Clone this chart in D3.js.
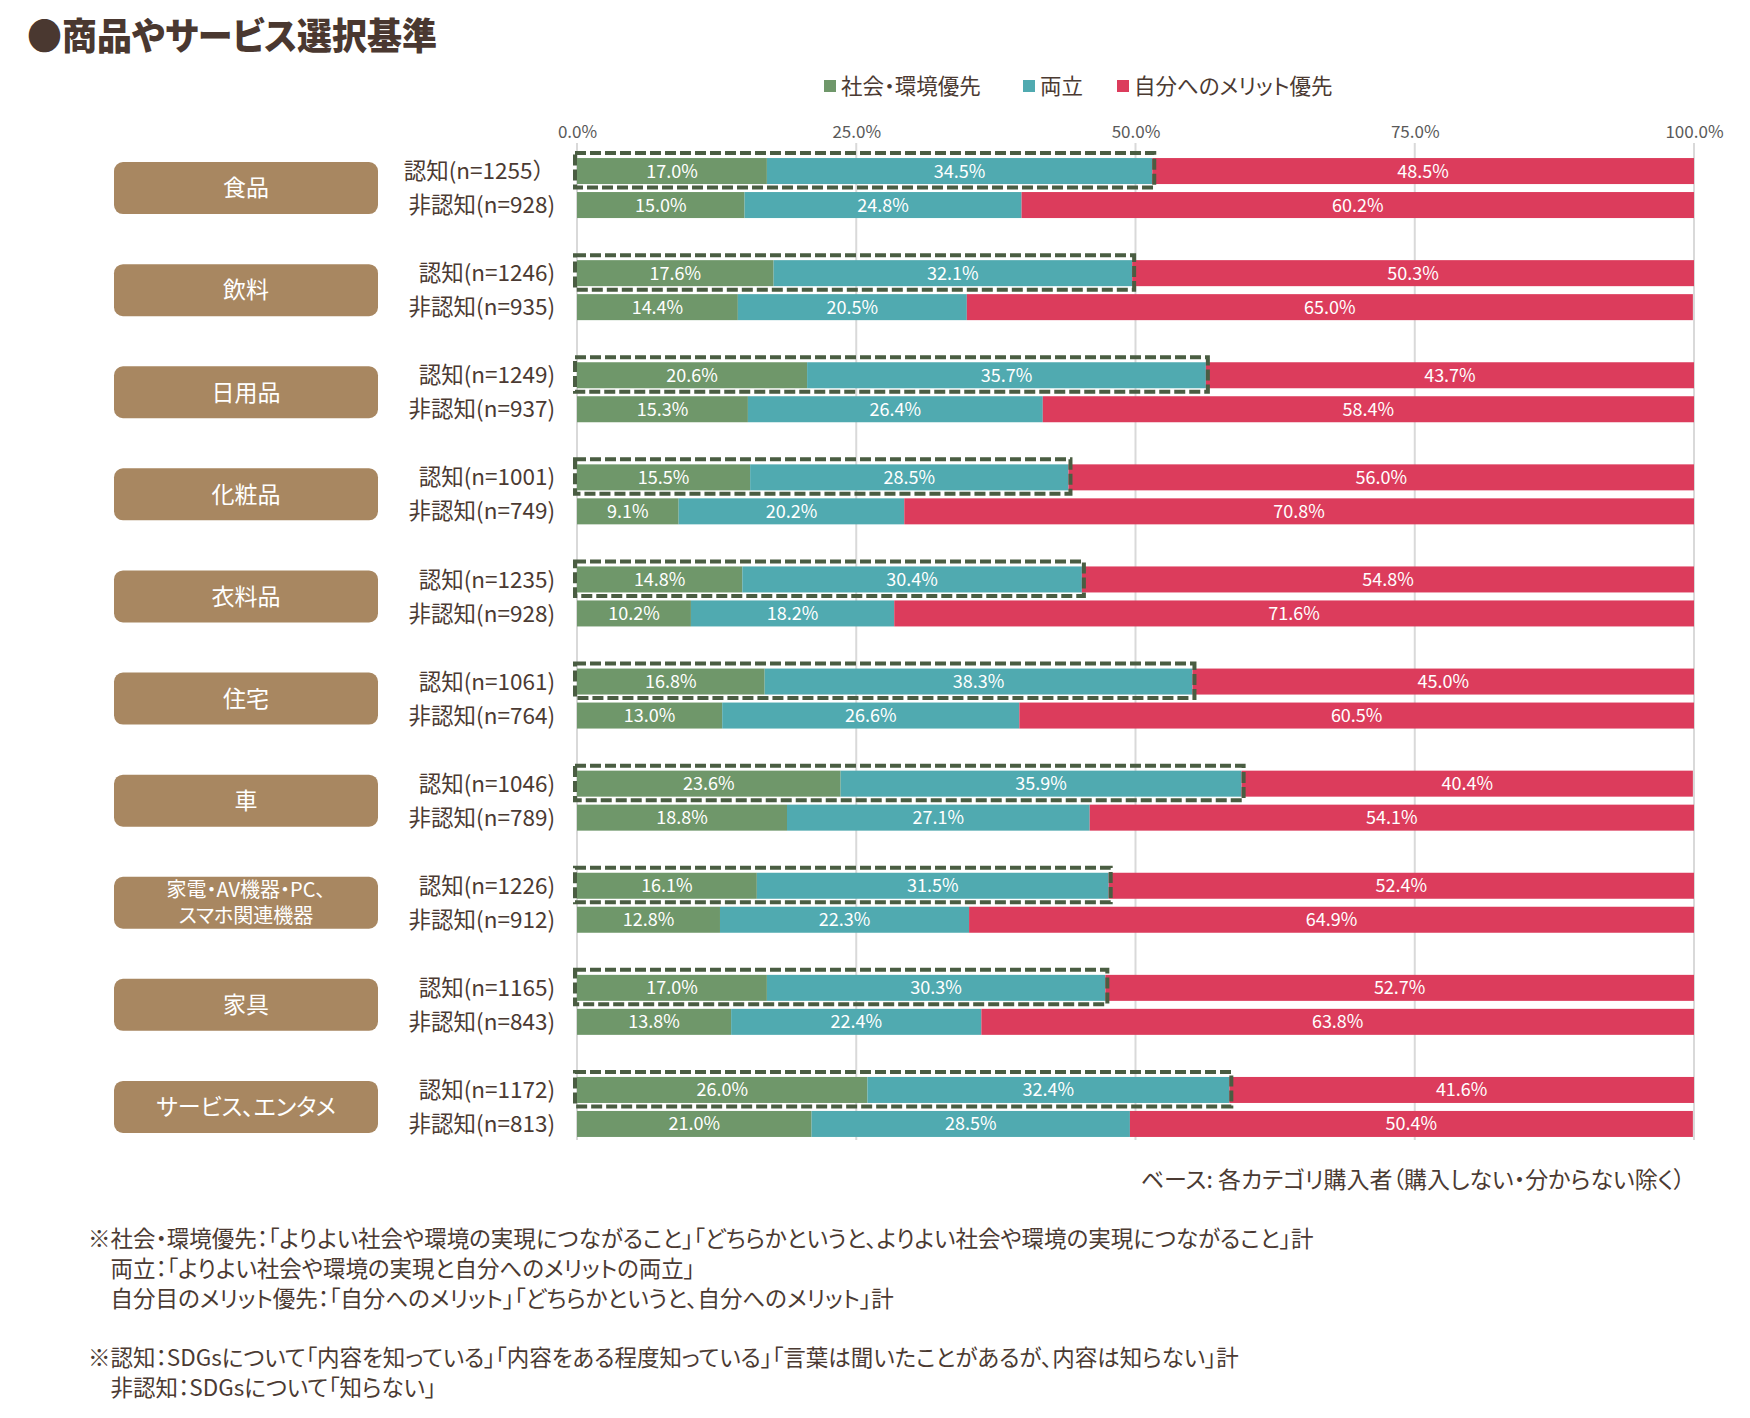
<!DOCTYPE html>
<html>
<head>
<meta charset="utf-8">
<script src="https://cdn.jsdelivr.net/npm/d3@7"></script>
<style>
  body { margin: 0; background: #fff; }
  text { font-family: "Noto Sans CJK JP", "Noto Sans", sans-serif; font-feature-settings: "palt"; }
  text.plain { font-feature-settings: normal; }
</style>
</head>
<body>
<script>
// categories and row labels
var categories = ["食品", "飲料", "日用品", "化粧品", "衣料品", "住宅", "車", "家電・AV機器・PC、\nスマホ関連機器", "家具", "サービス、エンタメ"];
var groups = ["認知", "非認知"];
var awareLabels = ["認知(n=1255）", "認知(n=1246)", "認知(n=1249)", "認知(n=1001)", "認知(n=1235)", "認知(n=1061)", "認知(n=1046)", "認知(n=1226)", "認知(n=1165)", "認知(n=1172)"];
var unawareLabels = ["非認知(n=928)", "非認知(n=935)", "非認知(n=937)", "非認知(n=749)", "非認知(n=928)", "非認知(n=764)", "非認知(n=789)", "非認知(n=912)", "非認知(n=843)", "非認知(n=813)"];

// series values (%)
var socialAware   = [17.0, 17.6, 20.6, 15.5, 14.8, 16.8, 23.6, 16.1, 17.0, 26.0];
var bothAware     = [34.5, 32.1, 35.7, 28.5, 30.4, 38.3, 35.9, 31.5, 30.3, 32.4];
var selfAware     = [48.5, 50.3, 43.7, 56.0, 54.8, 45.0, 40.4, 52.4, 52.7, 41.6];
var socialUnaware = [15.0, 14.4, 15.3, 9.1, 10.2, 13.0, 18.8, 12.8, 13.8, 21.0];
var bothUnaware   = [24.8, 20.5, 26.4, 20.2, 18.2, 26.6, 27.1, 22.3, 22.4, 28.5];
var selfUnaware   = [60.2, 65.0, 58.4, 70.8, 71.6, 60.5, 54.1, 64.9, 63.8, 50.4];

var seriesKeys = ["social", "both", "self"];
var seriesNames = ["社会・環境優先", "両立", "自分へのメリット優先"];
var seriesColors = ["#6F976A", "#50AAB0", "#DC3C5C"];
var tickValues = [0, 25, 50, 75, 100];

var notes = [
  "※社会・環境優先：「よりよい社会や環境の実現につながること」「どちらかというと、よりよい社会や環境の実現につながること」計",
  "　両立：「よりよい社会や環境の実現と自分へのメリットの両立」",
  "　自分目のメリット優先：「自分へのメリット」「どちらかというと、自分へのメリット」計",
  "",
  "※認知：SDGsについて「内容を知っている」「内容をある程度知っている」「言葉は聞いたことがあるが、内容は知らない」計",
  "　非認知：SDGsについて「知らない」"
];

var rows = [];
categories.forEach(function(c, i) {
  rows.push({cat: c, group: "認知", label: awareLabels[i], social: socialAware[i], both: bothAware[i], self: selfAware[i]});
  rows.push({cat: c, group: "非認知", label: unawareLabels[i], social: socialUnaware[i], both: bothUnaware[i], self: selfUnaware[i]});
});

var textColor = "#4B3A32";

var svg = d3.select("body").append("svg")
  .attr("width", 1750).attr("height", 1418)
  .style("background", "#fff");

var x = d3.scaleLinear().domain([0, 100]).range([577, 1694]).clamp(true);
var y = d3.scaleBand().domain(categories).range([137, 137 + 102.1 * 10]);
var yIn = d3.scaleBand().domain(groups).range([-30, 30]).paddingInner(0.235);

function rowTop(d) { return y(d.cat) + y.bandwidth() / 2 + yIn(d.group); }

// title
svg.append("text")
  .attr("x", 27).attr("y", 50)
  .attr("font-size", 37).attr("font-weight", 900)
  .attr("fill", "#4A3830")
  .attr("textLength", 410).attr("lengthAdjust", "spacingAndGlyphs")
  .text("●商品やサービス選択基準");

// legend
var legendX = [824, 1023, 1117];
var legend = svg.append("g").selectAll("g")
  .data(seriesNames).enter().append("g")
  .attr("transform", function(d, i) { return "translate(" + legendX[i] + ",86)"; });
legend.append("rect").attr("x", 0).attr("y", -6).attr("width", 12).attr("height", 12)
  .attr("fill", function(d, i) { return seriesColors[i]; });
legend.append("text").attr("x", 17).attr("dy", "0.36em")
  .attr("font-size", 21.5).attr("fill", textColor)
  .text(function(d) { return d; });

// gridlines
svg.append("g").selectAll("line")
  .data(tickValues).enter().append("line")
  .attr("x1", function(d) { return x(d); }).attr("x2", function(d) { return x(d); })
  .attr("y1", 143).attr("y2", 1140)
  .attr("stroke", "#D9D9D9").attr("stroke-width", 2);

// top axis
var axis = svg.append("g")
  .attr("transform", "translate(0,141)")
  .call(d3.axisTop(x).tickValues(tickValues).tickSize(0).tickPadding(3)
    .tickFormat(function(d) { return d.toFixed(1) + "%"; }));
axis.select(".domain").remove();
axis.selectAll("text")
  .attr("font-size", 17).attr("fill", "#595959")
  .style("font-family", "'Noto Sans CJK JP', sans-serif");

// stacked bars
var stacked = d3.stack().keys(seriesKeys)(rows);
var layers = svg.append("g").selectAll("g")
  .data(stacked).enter().append("g")
  .attr("fill", function(d, i) { return seriesColors[i]; });

layers.selectAll("rect")
  .data(function(d) { return d; })
  .enter().append("rect")
  .attr("x", function(d) { return x(d[0]); })
  .attr("y", function(d) { return rowTop(d.data); })
  .attr("width", function(d) { return x(d[1]) - x(d[0]); })
  .attr("height", yIn.bandwidth());

layers.selectAll("text")
  .data(function(d) { return d.map(function(s) { return {s: s, key: d.key}; }); })
  .enter().append("text")
  .attr("x", function(d) { return (x(d.s[0]) + x(d.s[1])) / 2; })
  .attr("y", function(d) { return rowTop(d.s.data) + yIn.bandwidth() / 2; })
  .attr("dy", "0.36em")
  .attr("text-anchor", "middle")
  .attr("font-size", 18).attr("fill", "#fff")
  .text(function(d) { return d.s.data[d.key].toFixed(1) + "%"; });

// dashed frame around social+both for 認知 rows
svg.append("g").selectAll("rect")
  .data(rows.filter(function(r) { return r.group === "認知"; }))
  .enter().append("rect")
  .attr("x", x(0) - 2)
  .attr("y", function(d) { return rowTop(d) - 5; })
  .attr("width", function(d) { return x(d.social + d.both) + 2 - (x(0) - 2); })
  .attr("height", yIn.bandwidth() + 8.5)
  .attr("fill", "none")
  .attr("stroke", "#4A5D42").attr("stroke-width", 4)
  .attr("stroke-dasharray", "11,4");

// row labels
svg.append("g").selectAll("text")
  .data(rows).enter().append("text")
  .attr("class", "plain")
  .attr("x", 555)
  .attr("y", function(d) { return rowTop(d) + yIn.bandwidth() / 2; })
  .attr("dy", "0.36em")
  .attr("text-anchor", "end")
  .attr("font-size", 22.5).attr("fill", textColor)
  .text(function(d) { return d.label; });

// category boxes
var boxes = svg.append("g").selectAll("g")
  .data(categories).enter().append("g")
  .attr("transform", function(d) { return "translate(0," + (y(d) + y.bandwidth() / 2) + ")"; });
boxes.append("rect")
  .attr("x", 114).attr("y", -26).attr("width", 264).attr("height", 52)
  .attr("rx", 9).attr("fill", "#A88761");
boxes.each(function(d) {
  var lines = d.split("\n");
  var fs = lines.length > 1 ? 20 : 23;
  lines.forEach(function(l, k) {
    d3.select(this).append("text")
      .attr("text-anchor", "middle").attr("fill", "#fff").attr("font-size", fs)
      .attr("x", 246)
      .attr("y", (k - (lines.length - 1) / 2) * 26)
      .attr("dy", "0.36em").text(l);
  }, this);
});

// base note
svg.append("text")
  .attr("x", 1685).attr("y", 1180).attr("dy", "0.36em")
  .attr("text-anchor", "end").attr("font-size", 23).attr("fill", textColor)
  .text("ベース: 各カテゴリ購入者（購入しない・分からない除く）");

// footnotes
svg.append("g").selectAll("text")
  .data(notes).enter().append("text")
  .attr("x", 88)
  .attr("y", function(d, i) { return 1239 + i * 29.8; })
  .attr("dy", "0.36em")
  .attr("font-size", 22.5).attr("fill", textColor)
  .text(function(d) { return d; });
</script>
</body>
</html>
